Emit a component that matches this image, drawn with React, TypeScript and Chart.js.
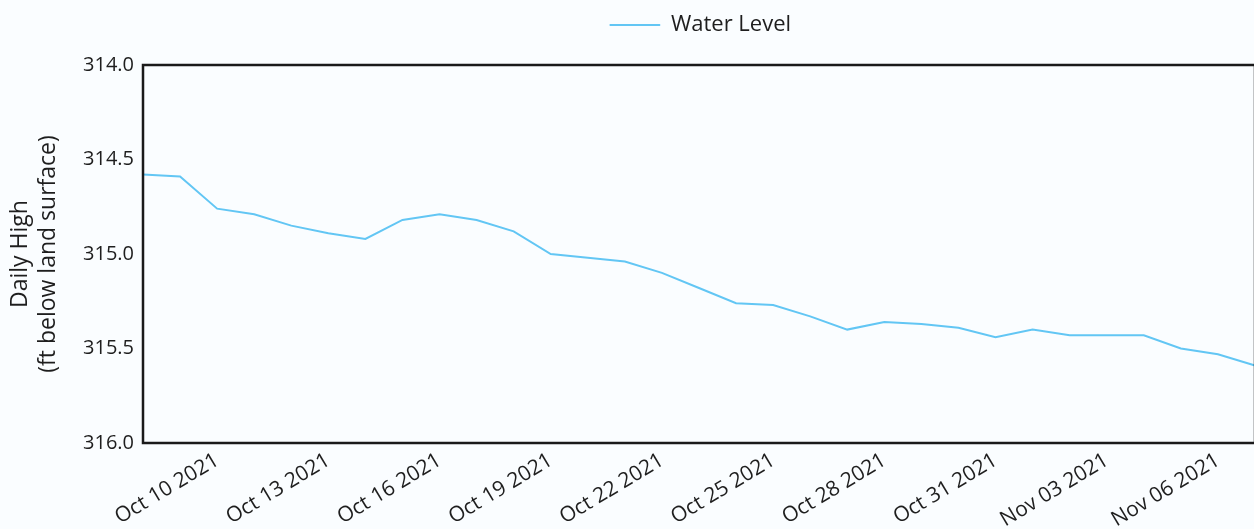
import React, { useEffect, useRef } from 'react';
import { Chart, registerables } from 'chart.js';

Chart.register(...registerables);

const dates = [
  'Oct 08 2021', 'Oct 09 2021', 'Oct 10 2021', 'Oct 11 2021', 'Oct 12 2021', 'Oct 13 2021',
  'Oct 14 2021', 'Oct 15 2021', 'Oct 16 2021', 'Oct 17 2021', 'Oct 18 2021', 'Oct 19 2021',
  'Oct 20 2021', 'Oct 21 2021', 'Oct 22 2021', 'Oct 23 2021', 'Oct 24 2021', 'Oct 25 2021',
  'Oct 26 2021', 'Oct 27 2021', 'Oct 28 2021', 'Oct 29 2021', 'Oct 30 2021', 'Oct 31 2021',
  'Nov 01 2021', 'Nov 02 2021', 'Nov 03 2021', 'Nov 04 2021', 'Nov 05 2021', 'Nov 06 2021',
  'Nov 07 2021',
];

const waterLevel = [
  314.58, 314.59, 314.76, 314.79, 314.85, 314.89,
  314.92, 314.82, 314.79, 314.82, 314.88, 315.0,
  315.02, 315.04, 315.1, 315.18, 315.26, 315.27,
  315.33, 315.4, 315.36, 315.37, 315.39, 315.44,
  315.4, 315.43, 315.43, 315.43, 315.5, 315.53,
  315.59,
];

const yTicks = [314.0, 314.5, 315.0, 315.5, 316.0];

const FONT = '"Open Sans", sans-serif';
const TEXT = '#1e1e1e';
const LINE = '#62c6f4';

const framePlugin = {
  id: 'frame',
  afterDraw(chart: any) {
    const { ctx, chartArea: a } = chart;
    ctx.save();
    ctx.strokeStyle = '#1a1a1a';
    ctx.lineWidth = 2.5;
    ctx.strokeRect(a.left, a.top, a.right - a.left, a.bottom - a.top);
    ctx.restore();
  },
};

const legendSpacer = {
  id: 'legendSpacer',
  beforeInit(chart: any) {
    const orig = chart.legend.fit;
    chart.legend.fit = function fit() {
      orig.bind(chart.legend)();
      this.height += 19;
    };
  },
  afterLayout(chart: any) {
    if (chart.legend) {
      chart.legend.left += 73;
      chart.legend.right += 73;
    }
  },
};

export default function App() {
  const ref = useRef<HTMLCanvasElement | null>(null);

  useEffect(() => {
    if (!ref.current) return;
    const chart = new Chart(ref.current, {
      type: 'line',
      data: {
        labels: dates,
        datasets: [
          {
            label: 'Water Level',
            data: waterLevel,
            borderColor: LINE,
            backgroundColor: LINE,
            borderWidth: 2,
            pointRadius: 0,
            tension: 0,
            fill: false,
          },
        ],
      },
      options: {
        responsive: false,
        animation: false,
        devicePixelRatio: 1,
        layout: { padding: { left: 0, right: 45, top: 0, bottom: 0 } },
        plugins: {
          legend: {
            display: true,
            position: 'top',
            labels: {
              color: TEXT,
              font: { family: FONT, size: 22 },
              boxWidth: 50,
              boxHeight: 1,
              padding: 14,
              generateLabels: (c: any) =>
                Chart.defaults.plugins.legend.labels
                  .generateLabels(c)
                  .map((l: any) => ({ ...l, lineWidth: 1 })),
            },
          },
          tooltip: { enabled: false },
        },
        scales: {
          x: {
            type: 'category',
            offset: false,
            grid: { color: 'rgba(0,0,0,0)', drawTicks: true, tickLength: 4 },
            border: { display: false },
            afterFit(scale: any) {
              scale.height = 86;
            },
            ticks: {
              autoSkip: false,
              minRotation: 31,
              maxRotation: 31,
              color: TEXT,
              font: { family: FONT, size: 21 },
              padding: 1,
              callback: (_v: any, i: number) => (i % 3 === 2 ? dates[i] : ''),
            },
          },
          y: {
            reverse: true,
            min: yTicks[0],
            max: yTicks[yTicks.length - 1],
            afterFit(scale: any) {
              scale.width = 143;
            },
            afterBuildTicks(scale: any) {
              scale.ticks = yTicks.map((v) => ({ value: v }));
            },
            grid: { color: 'rgba(0,0,0,0)', drawTicks: true, tickLength: 8 },
            border: { display: false },
            ticks: {
              color: TEXT,
              font: { family: FONT, size: 20 },
              padding: 1,
              callback: (v: any) => Number(v).toFixed(1),
            },
            title: {
              display: true,
              text: ['Daily High', '(ft below land surface)'],
              color: TEXT,
              font: { family: FONT, size: 23, lineHeight: 1.2 },
              padding: { top: 7, bottom: 0 },
            },
          },
        },
      },
      plugins: [framePlugin, legendSpacer],
    });
    return () => chart.destroy();
  }, []);

  return (
    <div
      style={{
        position: 'fixed',
        left: 0,
        top: 0,
        width: 1254,
        height: 529,
        overflow: 'hidden',
        background: '#fafdff',
      }}
    >
      <canvas ref={ref} width={1300} height={529} style={{ display: 'block' }} />
    </div>
  );
}
